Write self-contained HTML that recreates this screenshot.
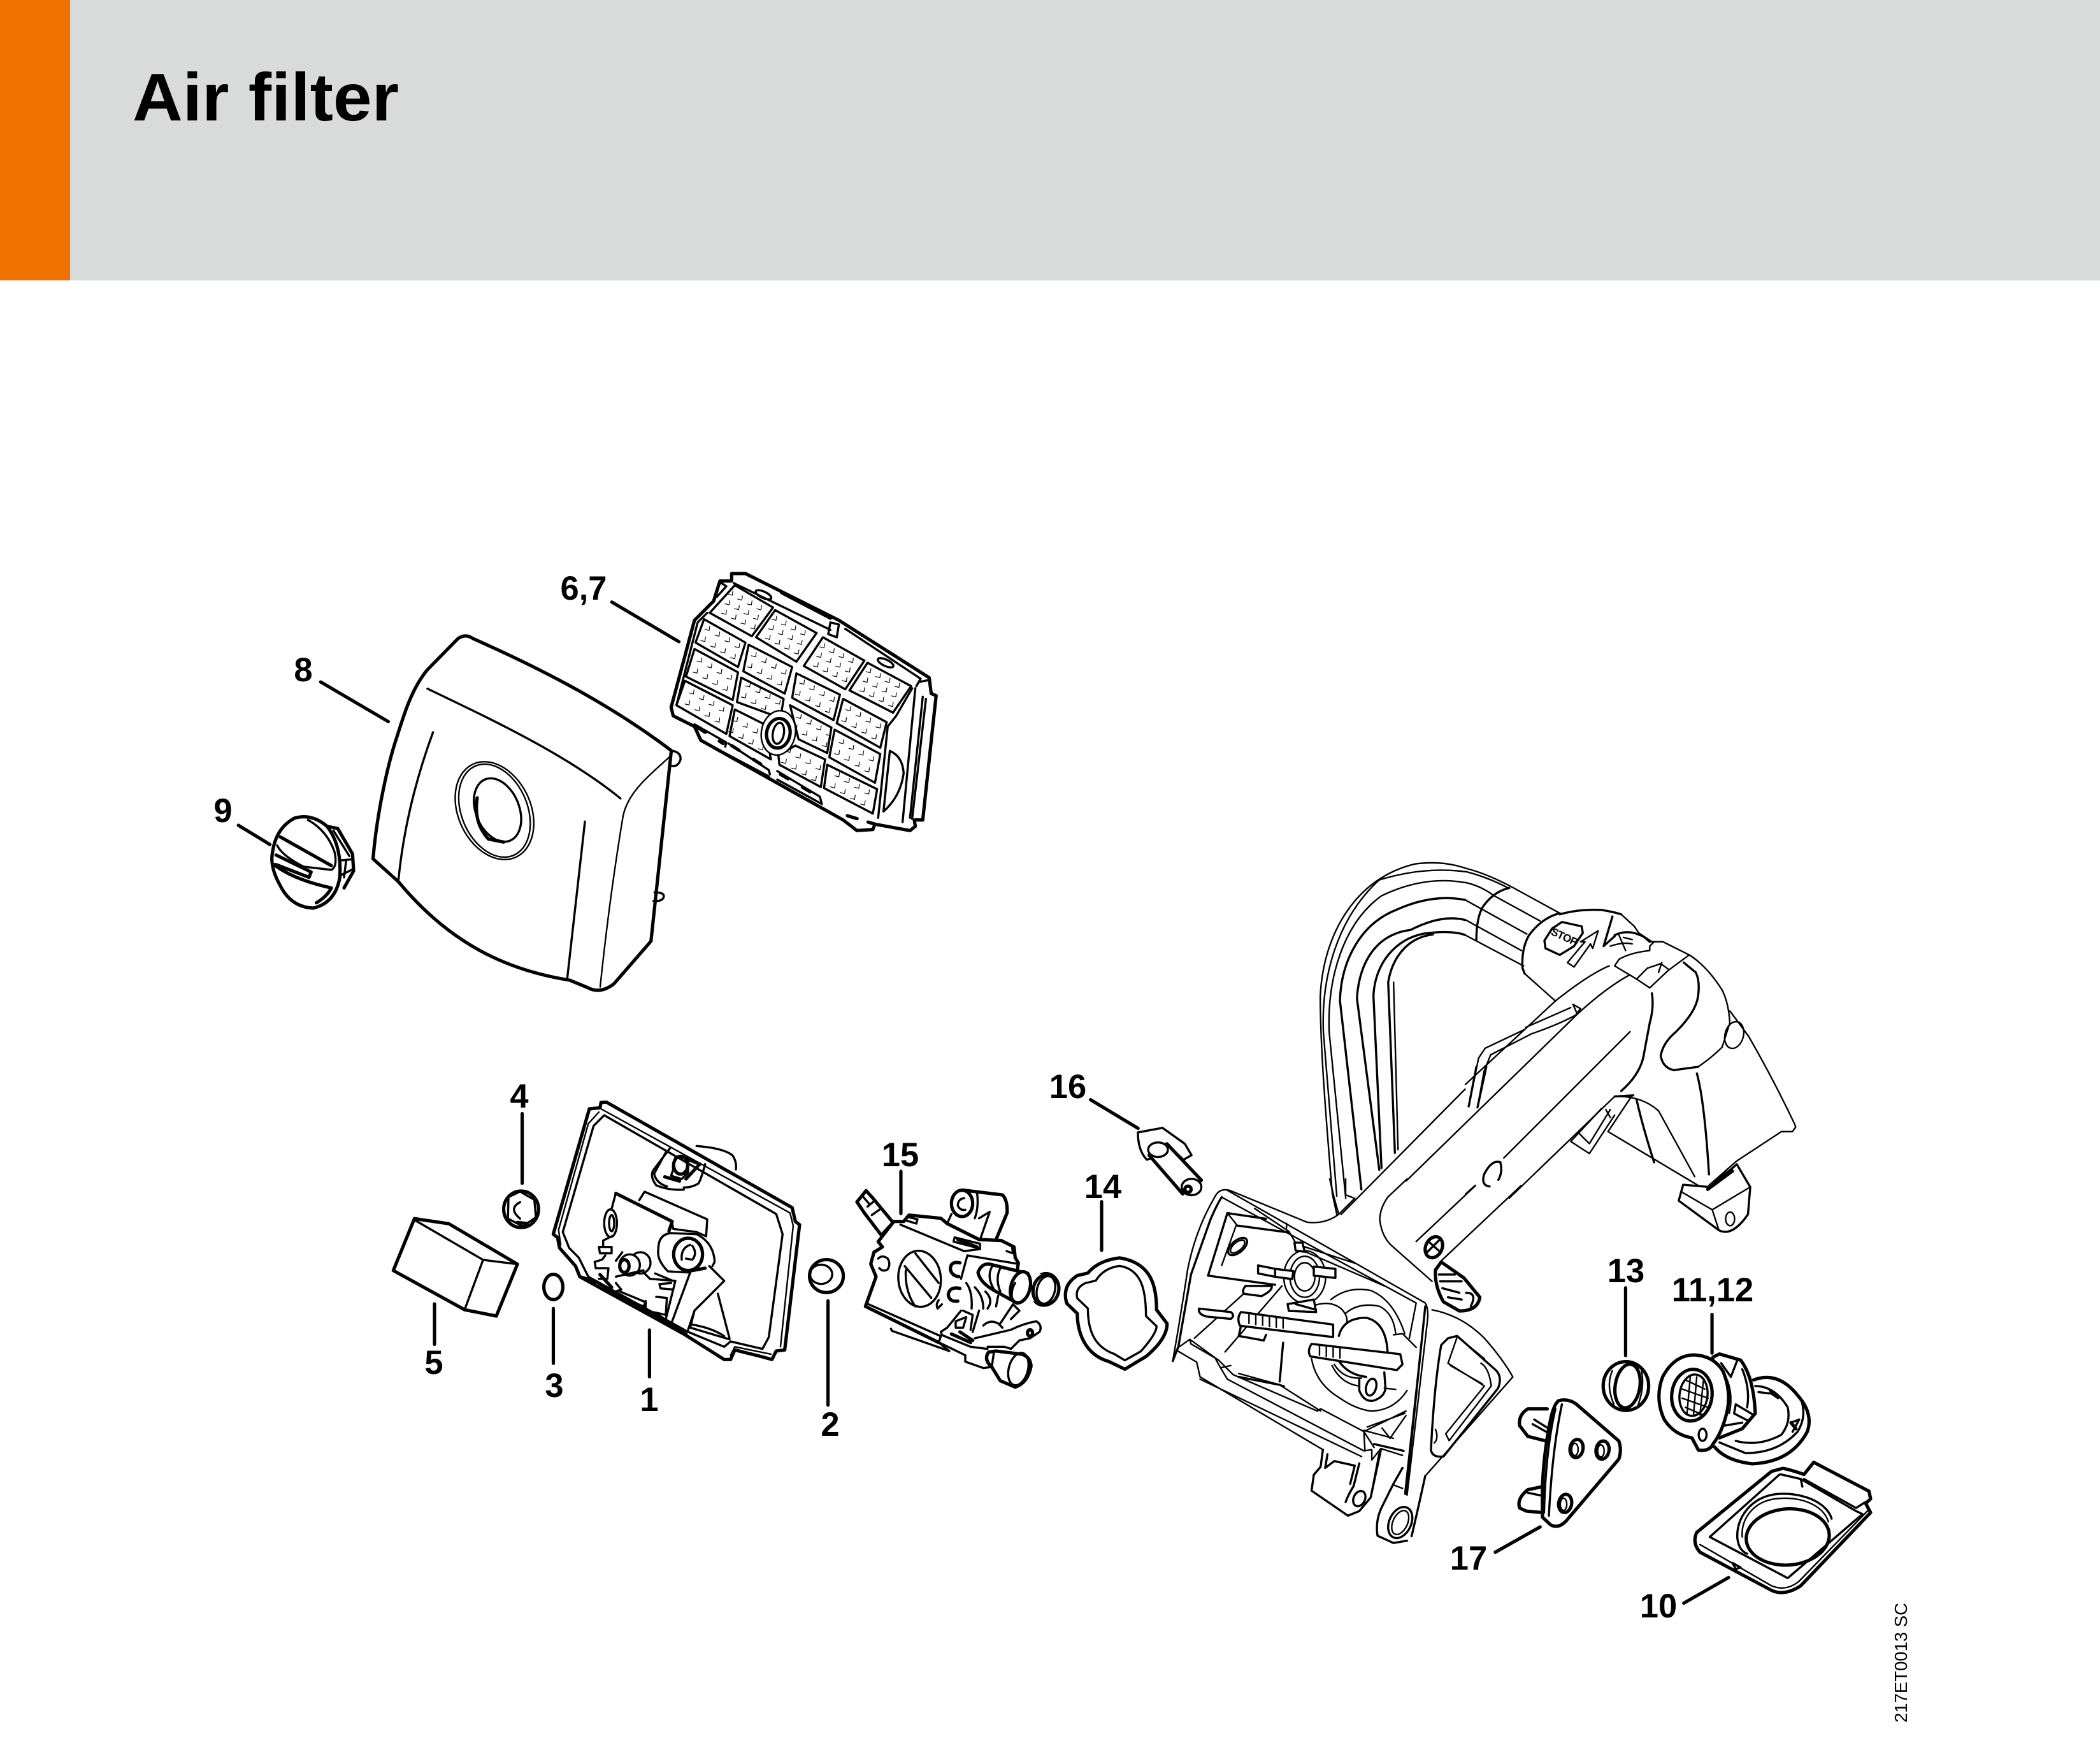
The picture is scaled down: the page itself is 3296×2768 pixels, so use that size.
<!DOCTYPE html>
<html><head><meta charset="utf-8"><title>Air filter</title>
<style>
html,body{margin:0;padding:0;background:#fff}
svg{display:block}
.p *{vector-effect:non-scaling-stroke}
.p{fill:none;stroke:#000;stroke-width:2.4;stroke-linejoin:round;stroke-linecap:round}
.k{stroke-width:5.2}
.m{stroke-width:3.4}
.w{fill:#fff}
.l{font:bold 52.5px "Liberation Sans",sans-serif;fill:#000;text-anchor:middle}
</style></head><body>
<svg width="3296" height="2768" viewBox="0 0 3296 2768" xmlns="http://www.w3.org/2000/svg">
<defs>
<path id="b" class="m" d="M-52,-78l-3,20l-20,-5M-5,-51l-3,20l-20,-5M42,-24l-3,20l-20,-5M89,3l-3,20l-20,-5M-72,-26l-3,20l-20,-5M-25,1l-3,20l-20,-5M22,28l-3,20l-20,-5M69,55l-3,20l-20,-5"/>
<path id="a" class="m" d="M-44,-92l-3,20l-20,-5M1,-69l-3,20l-20,-5M46,-46l-3,20l-20,-5M91,-23l-3,20l-20,-5M-59,-47l-3,20l-20,-5M-14,-24l-3,20l-20,-5M31,-1l-3,20l-20,-5M76,22l-3,20l-20,-5M-74,-2l-3,20l-20,-5M-29,21l-3,20l-20,-5M16,44l-3,20l-20,-5M61,67l-3,20l-20,-5"/>
</defs>
<rect width="3296" height="440" fill="#d9dbda"/>
<rect width="110" height="440" fill="#f07000"/>
<text x="208" y="189" textLength="418" lengthAdjust="spacingAndGlyphs" font-family="Liberation Sans,sans-serif" font-weight="bold" font-size="106" fill="#000">Air filter</text>

<!-- cover + leaders -->
<g class="p" transform="translate(300,850) scale(.7975,.4785)">
<path class="k" d="M828,198L960,328M255,460L388,590M93,930L155,993"/>
<path class="k w" d="M358,1040C365,900 385,740 405,640C420,560 435,480 465,420L525,318Q540,300 555,318C700,425 830,540 945,685L905,1310L832,1450Q805,1485 780,1462L745,1438C640,1410 520,1340 408,1115Z"/>
<path class="m" d="M465,482C600,590 740,700 845,842"/>
<path d="M945,700C900,770 860,820 850,900C830,1100 815,1300 805,1460"/>
<path class="m" d="M476,625C455,720 420,900 408,1110M775,918L740,1435"/>
<path class="m" d="M945,685Q965,690 963,715Q958,740 945,735M912,1150Q932,1150 930,1165Q928,1180 910,1178"/>
<ellipse cx="597" cy="882" rx="74" ry="162" transform="rotate(-9 597 882)"/>
<ellipse cx="597" cy="882" rx="67" ry="154" transform="rotate(-9 597 882)"/>
<ellipse class="m" cx="603" cy="880" rx="44" ry="105" transform="rotate(-9 603 880)"/>
<path class="k" d="M563,840Q555,920 585,975L615,985"/>
</g>

<!-- dial 9 -->
<g class="p" transform="translate(420,1250) scale(.3333)">
<path class="k" d="M280,140L330,150L400,270L405,350L360,430"/>
<path class="m" d="M310,160L385,280M350,300L400,295M345,370L395,345M370,300L360,380"/>
<path class="k w" d="M20,290Q30,150 130,100Q210,80 280,140Q350,230 340,380Q320,500 215,525Q110,520 60,420Q20,350 20,290Z"/>
<path class="m" d="M45,230Q70,280 170,330L300,345Q330,330 315,260Q280,160 190,110"/>
<path class="k" d="M60,190L300,325M40,275L205,355L195,380L40,320M30,320Q120,390 300,430Q280,470 230,500"/>
</g>

<!-- filter 6,7 -->
<g class="p" transform="translate(1040,880) scale(.3333)">
<path class="k w" d="M325,60L390,60L830,280L1255,550L1265,625L1288,635L1270,800L1225,1220L1185,1220L1190,1250L1165,1270L1000,1240L990,1265L915,1270L850,1220L180,845L150,780L50,730L40,690L150,280L240,190L270,95L325,95Z"/>
<path class="m" d="M335,105L790,325M860,320L1215,555L1195,590M1210,570L1260,560M1225,640L1165,1210M1240,650L1175,1215M1190,600L1130,1230M65,680L165,290L210,245M270,100L300,120L255,170M790,290L830,300L820,360L780,345Z"/>
<path class="k" d="M560,150L790,270"/>
<ellipse class="m" cx="475" cy="160" rx="40" ry="15" transform="rotate(25 475 160)"/>
<ellipse class="m" cx="1050" cy="480" rx="40" ry="15" transform="rotate(25 1050 480)"/>
<path class="m" d="M1175,600L1100,730L1060,780L1015,1210"/>
<path class="m" d="M340,115L520,220L420,355L222,245ZM530,232L725,340L630,475L440,360ZM755,360L950,470L860,605L665,495ZM965,480L1170,590L1085,715L880,610ZM195,275L390,385L355,500L155,385ZM405,395L610,500L575,625L380,520ZM630,530L835,630L805,750L610,645ZM850,650L1055,760L1025,880L820,765ZM150,415L355,525L330,655L110,545ZM370,550L570,650L555,740L350,665ZM600,680L795,785L775,905L640,840ZM810,795L1025,910L1000,1045L785,925ZM105,565L330,680L300,815L65,680ZM340,700L480,770L510,935L315,825ZM545,915L625,870L765,935L745,1065L550,960ZM775,960L1010,1075L990,1190L760,1070Z"/>
<use href="#a" x="375" y="234"/><use href="#a" x="581" y="352"/><use href="#a" x="807" y="482"/><use href="#a" x="1025" y="599"/>
<use href="#b" x="274" y="386"/><use href="#b" x="493" y="510"/><use href="#b" x="720" y="639"/><use href="#b" x="938" y="764"/>
<use href="#b" x="237" y="535"/><use href="#b" x="465" y="652"/><use href="#b" x="705" y="800"/><use href="#b" x="905" y="919"/>
<use href="#b" x="200" y="685"/><use href="#b" x="405" y="815"/><use href="#b" x="655" y="960"/><use href="#b" x="885" y="1075"/>
<ellipse class="w" cx="545" cy="810" rx="80" ry="105" transform="rotate(10 545 810)"/>
<ellipse class="k" cx="545" cy="812" rx="55" ry="70" transform="rotate(10 545 812)"/>
<ellipse class="m" cx="545" cy="812" rx="26" ry="50" transform="rotate(10 545 812)"/>
<path class="m" d="M1070,895Q1130,920 1135,1000Q1120,1110 1040,1180Z"/>
<path class="m" d="M150,770L300,855L295,875M310,860L500,985L505,1005M540,990L740,1110L750,1145M180,845L500,1015M540,1030L750,1145"/>
<path class="k" stroke-dasharray="14 26" d="M165,785L285,860M325,870L490,975M555,1005L725,1105"/>
<path class="k" stroke-dasharray="16 18" d="M870,1200L1000,1240"/>
</g>

<!-- housing 1 -->
<g class="p" transform="translate(860,1720) scale(.3333)">
<path class="k" d="M250,30L275,28L1150,525L1165,590L1185,605L1115,1195L1075,1200L1055,1240L1000,1225L880,1195L860,1240L830,1240L640,1120L150,850L130,800L55,715L45,665L25,650L195,60L245,55Z"/>
<path class="m" d="M265,90L1075,555L1105,650L1040,1135L1010,1190L860,1155L830,1180L660,1110L190,850L145,760L100,715L70,640L215,140Z"/>
<path d="M250,60L1140,550L1155,610L1095,1180M240,75L190,130L50,630L60,700M860,1220L880,1180L1050,1215"/>
<path class="m" d="M700,235Q830,245 870,280Q890,310 885,345"/>
<path class="m" d="M575,245L495,350Q480,380 510,420Q570,445 640,440M555,265L500,365Q510,410 560,425M740,320Q725,380 710,410Q680,430 640,430"/>
<path class="m" d="M600,290Q585,320 590,345L580,375L630,390L660,360L660,290Z"/>
<ellipse class="k" cx="625" cy="325" rx="33" ry="42"/>
<path class="k" d="M550,380L620,400M665,300L715,320L650,390"/>
<path class="m" d="M320,455L300,530M430,490L455,450L750,580L745,660M585,600L590,625L700,640L745,660M300,660L260,680"/>
<path class="k" d="M320,458L585,590L570,635"/>
<ellipse class="m" cx="295" cy="598" rx="30" ry="65"/><ellipse class="m" cx="300" cy="598" rx="12" ry="38"/>
<path class="m" d="M520,720Q520,650 580,645L700,650Q780,690 785,780L775,800M520,720Q510,770 565,825L660,830"/>
<ellipse class="k w" cx="660" cy="745" rx="68" ry="76"/>
<path class="m" d="M670,700Q625,715 630,770M680,705Q705,740 680,770L650,765"/>
<path class="k" d="M660,825L740,810"/>
<path class="m" d="M670,830L585,1060M760,800L830,870L690,1010L660,1100M800,930L855,1140M690,1010L670,1090L855,1145M675,1075Q770,1090 830,1130"/>
<path class="m" d="M240,710L300,710L300,740L245,740ZM260,685L260,710M220,780L255,770L270,750M220,780L225,810L285,810L280,860L240,860"/>
<ellipse class="m" cx="435" cy="785" rx="48" ry="50"/>
<ellipse class="m w" cx="385" cy="795" rx="48" ry="50"/>
<ellipse class="k" cx="360" cy="800" rx="22" ry="30"/>
<path class="m" d="M320,775L350,735M320,850L450,820M320,880L345,910L320,920M450,830L480,860L600,870L555,1050M505,835L590,870M580,880L525,885L530,905L585,910M510,945L560,950L555,1030L510,1020M340,920L460,970L450,990L350,950M460,965L460,1000L490,1020"/>
<path class="k" d="M150,850L230,875L650,1120"/>
<path class="k" d="M245,840L300,900M500,1020L560,1060"/>
</g>

<!-- crop 2 parts -->
<g class="p" transform="translate(580,1680) scale(.829,.397)">
<path class="k" d="M289,170V445M123,922V1082M348,940V1157M530,1025V1210M868,910V1322M1006,398V565M1386,518V710M1365,115L1455,228"/>
<path class="k" d="M85,585L150,605L280,765L240,970L180,945L45,790Z"/>
<path class="m" d="M85,590L215,748L280,765M215,748L180,945"/>
<ellipse class="k" cx="348" cy="855" rx="18" ry="50"/>
<ellipse class="k" cx="287" cy="548" rx="33" ry="72"/>
<path class="m" d="M263,500L285,478L312,510L315,580L290,615L262,585Z"/>
<path class="m" d="M285,520Q262,545 285,585"/>
<path class="k" d="M280,600L298,604"/>
<ellipse class="k" cx="865" cy="812" rx="32" ry="65"/>
<ellipse class="m" cx="855" cy="805" rx="21" ry="38"/>
<path class="k" d="M1420,740C1480,760 1490,850 1490,945L1510,1000Q1510,1060 1470,1130L1430,1180L1400,1150C1350,1120 1340,1020 1340,960L1320,920Q1310,850 1340,810L1360,800Q1380,750 1420,740Z"/>
<path class="m" d="M1420,772C1460,785 1470,860 1470,970L1490,1010Q1490,1040 1460,1110L1430,1145L1410,1120C1370,1090 1360,1020 1360,940L1340,900Q1335,860 1355,840L1375,830Q1390,780 1420,772Z"/>
</g>

<!-- carburetor 15 -->
<g class="p" transform="translate(1330,1850) scale(.3333)">
<path class="k" d="M45,108L88,55L120,90L215,205L160,265L80,160Z"/>
<path class="m" d="M75,85L105,120M95,130L125,105M115,170L150,145"/>
<path class="k" d="M215,205L145,295L165,320L125,345L110,400L135,460L85,600L430,770"/>
<path class="k" d="M215,200L265,200L290,170L440,185L470,210L620,285L725,290L785,320L790,370L805,395L800,430"/>
<path class="m" d="M250,215L550,340L625,330L625,305L505,275L500,295L615,325M290,180L330,190L325,210L275,195M565,360L535,470M565,360L805,400M750,340L780,350L775,320"/>
<path class="m" d="M100,590L440,740M85,600L555,830M205,705L210,715L480,810M555,830L555,860L640,890L680,885M440,740L430,770L480,810"/>
<path class="k" d="M520,285L610,320"/>
<path class="m" d="M190,375Q165,355 145,375M150,420Q170,440 190,425Q205,400 190,375"/>
<ellipse class="m" cx="340" cy="470" rx="100" ry="132" transform="rotate(-5 340 470)"/>
<path class="m" d="M320,350L430,490M270,410L395,560M275,430Q270,530 320,600"/>
<path class="k" d="M530,395Q485,385 485,425Q490,455 525,460M530,515Q480,505 475,545Q480,580 520,575"/>
<path class="m" d="M430,570Q415,590 425,610L445,590"/>
<ellipse class="k w" cx="540" cy="115" rx="50" ry="62"/>
<path class="m" d="M550,90Q520,95 520,125Q530,150 555,145"/>
<path class="k" d="M540,52L730,75Q755,100 752,160L700,285"/>
<path class="m" d="M610,60Q620,130 600,185M670,155L625,285M620,185L670,155M490,165L470,210"/>
<path class="m" d="M560,490Q590,530 585,610M600,510Q640,550 640,610M650,530Q690,570 660,610M710,550L700,600M535,620L470,700L440,720L445,735L580,790L660,800M590,640L545,620M590,640L580,710M620,620L590,720M640,690Q670,660 710,680L730,700M720,680L780,590Q800,610 810,620L770,660"/>
<path class="m" d="M510,670L560,650L545,700L510,700Z"/>
<ellipse class="k w" cx="930" cy="520" rx="62" ry="75" transform="rotate(15 930 520)"/>
<ellipse class="m" cx="935" cy="520" rx="44" ry="68" transform="rotate(15 935 520)"/>
<path class="m w" d="M850,430L985,470L935,595L860,570Z" stroke="none"/>
<ellipse class="k w" cx="935" cy="522" rx="60" ry="72" transform="rotate(15 935 522)"/>
<ellipse class="m" cx="935" cy="522" rx="42" ry="66" transform="rotate(15 935 522)"/>
<path class="k w" d="M615,440Q630,400 665,400L850,445L800,585L700,530Q625,490 615,440Z"/>
<path class="m" d="M680,415Q655,460 690,520M720,420Q695,470 720,530"/>
<ellipse class="k w" cx="815" cy="510" rx="45" ry="75" transform="rotate(15 815 510)"/>
<path class="m" d="M790,490Q770,520 775,560"/>
<path class="m" d="M600,750L770,710Q830,680 890,670Q920,690 905,720L860,750L810,760L770,800L740,790L660,790"/>
<ellipse class="k" cx="860" cy="725" rx="12" ry="15"/>
<path class="k" d="M490,730L580,770M530,720L590,760"/>
<path class="k w" d="M665,815Q640,850 680,885L720,950L790,980Q850,960 865,880Q860,835 820,825L700,810Z"/>
<ellipse class="m" cx="805" cy="895" rx="45" ry="78" transform="rotate(15 805 895)"/>
<path class="m" d="M690,815L680,885"/>
</g>

<!-- handle + foot + pin -->
<g class="p" transform="translate(1800,1320) scale(.7015,.714)">
<path d="M415,775C400,600 388,450 388,340C395,200 470,80 600,50Q660,42 712,59"/>
<path d="M425,780L395,420C390,300 425,170 520,85Q620,55 712,67"/>
<path d="M445,785L408,420C403,300 440,180 525,120Q620,75 712,91"/>
<path class="m" d="M480,765L432,350C435,260 480,180 560,150Q640,115 712,129"/>
<path class="m" d="M520,722L470,345C475,270 510,205 590,195Q660,160 712,173"/>
<path class="m" d="M525,718L507,340C510,270 555,215 620,203Q680,195 712,206"/>
<path class="m" d="M555,685L540,310C548,260 580,212 640,205"/>
<path d="M562,678L552,310"/>
<path d="M435,820L712,545"/>
<path d="M415,775L425,820"/>
<path class="m" d="M1200,755L1190,790L1280,855Q1310,870 1345,820L1350,760L1320,710L1260,760Z"/>
<path d="M1195,770L1265,810L1280,855M1265,810L1350,760M1260,760L1300,720"/>
<ellipse cx="1305" cy="830" rx="10" ry="15"/>
<path class="k" d="M1255,765L1310,725"/>
<path class="m w" d="M-20,640L35,630L85,665L100,690L82,700L60,680L30,690L0,700Q-20,680 -20,640Z"/>
<path class="k w" d="M5,690L80,775L122,745L45,665Z"/>
<ellipse class="m w" cx="25" cy="678" rx="22" ry="16"/>
<ellipse class="m w" cx="100" cy="760" rx="22" ry="18"/><ellipse class="k" cx="92" cy="765" rx="7" ry="7"/>
</g>

<!-- rear -->
<g class="p" transform="translate(2300,1340) scale(.3444)">
<path d="M0,65Q100,90 220,155L430,270M0,80Q100,105 195,155M0,130Q70,145 130,190L340,305M0,210L280,365M0,300L255,440M0,370L265,510"/>
<path class="m" d="M200,155Q130,170 80,240Q50,290 50,390"/>
<path class="m" d="M430,270Q350,290 290,370Q255,430 260,520L270,545"/>
<path d="M270,545L410,670"/>
<path class="m" d="M430,275Q520,250 620,255Q680,265 710,275"/>
<path d="M710,275L770,330L790,360L850,400L900,400L1020,460Q1100,510 1170,620Q1200,680 1205,770L1170,880Q1120,930 1060,970"/>
<path class="m" d="M1060,970L950,985Q900,975 890,920Q900,860 960,810Q1050,720 1060,650Q1070,580 1050,540L995,495"/>
<path d="M1205,715L1290,830Q1400,1020 1500,1230L1505,1245L1490,1265L1440,1265L1235,1400L1110,1510"/>
<path d="M1020,460L925,530L840,610L780,570L680,510L700,480Q750,450 840,440L840,420L860,400M780,570L830,520L890,500L925,525M895,495L880,540"/>
<ellipse cx="1225" cy="825" rx="42" ry="62" transform="rotate(15 1225 825)"/>
<path class="m" d="M850,635Q860,700 840,770L810,930Q790,1010 710,1080"/>
<path d="M655,510Q560,550 410,670L0,1050M750,550Q640,610 510,730L-270,1490"/>
<path d="M270,800L90,885L60,930L15,1150M480,700L275,790M510,730L490,685L525,705L505,730"/>
<path d="M510,730Q430,775 300,820L115,915L85,990L55,1155"/>
<path class="m" d="M50,970L15,1150M95,970L55,1155"/>
<path d="M750,810L175,1385"/>
<path class="m" d="M160,1405Q120,1390 85,1460Q70,1510 110,1515M160,1410Q170,1450 150,1485"/>
<path d="M45,1510L0,1550M680,1105L200,1568M680,1105Q800,1100 880,1170L1045,1470"/>
<path class="m" d="M680,1105L765,1100"/>
<path d="M760,1100L650,1265L1060,1510"/>
<path class="m" d="M780,1120Q810,1250 860,1405M1055,1000Q1090,1130 1110,1460"/>
<path d="M620,1160L480,1310L565,1365L680,1190M660,1165L565,1320L515,1270M640,1165L660,1200"/>
<path class="m" d="M440,310L530,330L535,360L495,420L430,460L365,430L360,395L395,340Z"/>
<path d="M605,350L525,400L545,400L465,495L495,515L570,410L580,430Z"/>
<path class="m" d="M670,285L630,420L680,375"/>
<path class="m" d="M680,370Q720,350 770,360L810,375L840,400"/>
<path d="M660,420Q720,400 760,410M700,370L730,440M720,380L760,390"/>
</g>
<text transform="translate(2433,1466) rotate(25)" font-family="Liberation Sans,sans-serif" font-weight="bold" font-size="17" textLength="44" fill="#000">STOP</text>

<!-- casing -->
<g class="p" transform="translate(1830,1850) scale(.357)">
<path class="m" d="M30,800L55,735L110,420L195,180Q225,110 245,80"/>
<path d="M30,800Q65,600 95,400Q130,220 220,70Q240,40 280,50L620,190Q700,200 760,155M720,0Q740,90 760,155M790,0L790,70L830,85M830,85L760,155"/>
<path d="M270,50L1140,545Q1155,570 1150,620L1060,1390M245,80L1100,545L1070,700M1140,560L1050,1385"/>
<path class="m" d="M1140,560L1055,1385"/>
<path class="m" d="M270,150L185,425L480,465M270,150L440,175M315,205L540,235"/>
<path d="M270,150L310,200L245,380"/>
<ellipse class="m" cx="315" cy="297" rx="50" ry="26" transform="rotate(-40 315 297)"/>
<ellipse cx="315" cy="297" rx="38" ry="18" transform="rotate(-40 315 297)"/>
<path d="M390,130L540,230L570,280M530,195L530,215M600,295L830,370M590,310L960,470"/>
<ellipse cx="610" cy="430" rx="92" ry="115"/><ellipse cx="610" cy="430" rx="65" ry="90"/><ellipse cx="610" cy="430" rx="45" ry="62"/>
<path class="m w" d="M565,280L600,280L610,320L570,315Z"/>
<path class="m w" d="M405,380L480,395L480,430L405,415ZM480,395L560,405L555,440L480,430ZM650,385L745,395L745,435L650,425Z"/>
<path d="M125,700L380,470M260,760L510,470"/>
<path class="m w" d="M350,470L465,470Q470,490 420,515L345,505Q330,495 350,470ZM145,570L285,585Q305,600 285,615L180,605Q140,595 145,570Z"/>
<path d="M725,530Q800,470 900,490Q1000,530 1050,680M640,790Q660,900 760,960Q830,1010 900,1020Q1000,1020 1060,930M790,590Q850,540 940,560Q1000,590 1010,680M730,820Q770,900 850,910M740,815Q780,880 860,875"/>
<path class="m" d="M760,690Q780,610 880,610Q970,630 975,770M760,800Q800,860 880,870"/>
<path d="M640,560Q720,530 770,570Q800,600 795,630M1000,685L1040,680L1100,740"/>
<path class="m w" d="M535,550L650,530L660,585L540,580Z"/>
<path class="m" d="M570,550L660,575"/>
<path class="m w" d="M330,585L735,640L735,695L325,645Q310,610 330,585Z"/>
<path class="m" d="M330,645L320,690L430,710L440,685"/>
<path d="M365,595v40M395,600v40M425,603v40M455,608v40M485,612v40M515,615v40"/>
<path class="m w" d="M640,725L1030,770L1040,815L1015,840L635,780Q620,755 640,725Z"/>
<path d="M675,730v45M705,735v45M735,738v45M765,742v45"/>
<path class="m" d="M850,880L850,930Q870,980 910,975Q960,960 965,920L960,850"/>
<ellipse class="m" cx="902" cy="915" rx="22" ry="38" transform="rotate(15 902 915)"/>
<path d="M960,920L1010,925"/>
<path class="m" d="M515,720L500,890"/>
<path class="m" d="M320,870L500,905"/>
<path d="M320,855L520,910M500,905L680,1020"/>
<path d="M105,705L55,740L30,800M105,705L215,785L240,830L285,820M50,755L135,805L150,870L690,1190M105,705L110,725L230,795L295,860L665,1020L680,1010L870,1110M150,880L860,1220M240,830L270,880L870,1195M870,1110L875,1195M870,1110L915,1180M870,1195L905,1190L905,1235L945,1185L1040,1215"/>
<path class="m" d="M915,1165L1045,1195"/>
<path d="M940,1190L905,1370M870,1110L1055,1020M950,1095L985,1140L1055,1040M885,1090L1050,1030M870,1105L1000,1140"/>
<path class="m" d="M690,1190L680,1265L650,1300L640,1370L800,1480L850,1460L900,1400L945,1190M710,1210L700,1270L740,1240L830,1260L810,1340M850,1250L825,1350Q800,1390 790,1420"/>
<ellipse class="m" cx="850" cy="1405" rx="25" ry="35" transform="rotate(25 850 1405)"/>
<path class="m" d="M1140,1305L1110,1440L1080,1570M1040,1270L1000,1340L950,1440Q920,1500 930,1568L1000,1600L1060,1590"/>
<path d="M1000,1345L1040,1360"/>
<ellipse class="m" cx="1030" cy="1510" rx="48" ry="72" transform="rotate(25 1030 1510)"/>
<ellipse cx="1030" cy="1510" rx="32" ry="56" transform="rotate(25 1030 1510)"/>
<path class="m" d="M1240,700L1210,730Q1180,900 1165,1190Q1170,1225 1220,1220L1460,920Q1480,870 1450,840L1280,690Z"/>
<path d="M1280,695L1240,810L1400,910L1230,1120L1245,1150L1430,910Q1420,830 1385,810M1250,820L1390,900M1290,700L1400,790M1185,1100Q1200,1140 1180,1160"/>
<path d="M1170,575Q1300,600 1400,700Q1480,790 1525,870L1145,1300"/>
<path d="M1060,0L975,80Q940,130 940,180Q950,260 1000,300L1170,450M1100,275L1360,30M1210,360L1560,30"/>
<ellipse class="k" cx="1178" cy="300" rx="36" ry="48" transform="rotate(25 1178 300)"/>
<path class="m" d="M1150,320L1200,270M1160,280L1205,320"/>
<path class="k w" d="M1185,400L1210,365L1310,435L1380,520Q1370,580 1290,580L1220,540Q1180,470 1185,400Z"/>
<path class="m" d="M1200,420L1270,420M1205,450L1300,450M1215,480L1290,500M1240,520L1300,530M1320,500Q1370,500 1340,560"/>
</g>

<!-- crop 4 parts -->
<g class="p" transform="translate(2250,1950) scale(.51,.4785)">
<path class="k" d="M591,148V370M857,235V362M190,1015L328,932M770,1182L908,1098"/>
<ellipse class="k" cx="592" cy="470" rx="70" ry="80"/>
<ellipse class="k" cx="597" cy="470" rx="38" ry="72" transform="rotate(8 597 470)"/>
<path d="M550,420Q530,470 555,530M640,420Q650,470 630,530"/>
<path class="k" d="M985,450Q1060,420 1120,500Q1170,560 1150,620Q1100,720 980,725Q900,715 865,670"/>
<path class="m" d="M1130,510Q1150,570 1120,620Q1060,690 960,690L880,655M990,470Q1050,470 1090,540Q1100,590 1070,630Q1000,670 930,650M1000,490L1040,495L1060,510L1035,485M1100,590L1125,580L1105,620"/>
<path class="k" d="M1100,590L1115,610"/>
<path class="k w" d="M860,375L880,365L945,385Q985,440 990,560L950,610L880,640L850,600Z"/>
<path class="m" d="M885,395L915,440L935,385M950,415Q975,480 965,540M930,530L985,565L970,585L925,560ZM895,600L950,590"/>
<path class="k w" d="M800,368Q860,370 890,420Q915,480 905,545Q890,620 860,660Q850,685 815,680L795,640Q740,630 710,580Q680,510 705,440Q740,370 800,368Z"/>
<ellipse class="k" cx="795" cy="500" rx="62" ry="85" transform="rotate(6 795 500)"/>
<ellipse class="m" cx="800" cy="500" rx="43" ry="68" transform="rotate(6 800 500)"/>
<path d="M775,450L835,480M765,480L845,510M765,510L845,540M775,540L830,565M790,440L780,560M810,440L800,565M830,455L820,565"/>
<ellipse class="m" cx="828" cy="630" rx="12" ry="20"/>
<path d="M895,430Q925,490 910,560"/>
<path class="k" d="M350,545L290,545Q260,565 265,600L290,635L345,650M335,800L290,810Q255,840 265,870L285,880L335,885"/>
<path class="m" d="M310,580L355,610M305,595L355,625M290,820L335,830"/>
<path class="k w" d="M385,518Q415,510 440,530L570,650Q580,680 570,710L410,910Q385,940 360,925L335,900L335,800Q340,680 360,580Q370,530 385,518Z"/>
<path class="m" d="M375,545Q345,680 340,885M395,530Q365,680 355,895"/>
<ellipse class="k" cx="440" cy="675" rx="20" ry="30" transform="rotate(8 440 675)"/><ellipse cx="435" cy="678" rx="10" ry="20"/>
<ellipse class="k" cx="520" cy="680" rx="20" ry="30" transform="rotate(8 520 680)"/><ellipse cx="515" cy="683" rx="10" ry="20"/>
<ellipse class="k" cx="405" cy="855" rx="20" ry="30" transform="rotate(8 405 855)"/><ellipse cx="400" cy="858" rx="10" ry="20"/>
<path class="k" d="M1075,740Q1100,745 1140,760L1170,720L1340,815L1345,840L1330,855L1345,885L1130,1125Q1080,1160 1040,1140L820,1015Q795,985 810,950L1040,750Z"/>
<path class="m" d="M1070,760L1130,775L1300,880L1320,890L1090,1100L850,965L1065,760ZM1140,775L1300,870L1330,850M1130,775L1135,800"/>
<path d="M820,990L1040,1125Q1085,1145 1125,1110L1335,880"/>
<path class="m" d="M1225,905C1210,850 1130,815 1050,825C980,835 930,900 935,970Q940,1010 965,1020"/>
<path d="M1215,915C1200,860 1130,830 1050,840C985,850 945,905 950,965"/>
<ellipse class="k" cx="1090" cy="965" rx="128" ry="92" transform="rotate(-5 1090 965)"/>
<path class="m" d="M920,1050L945,1065L930,1070Z"/>
</g>

<g>
<text class="l" x="916" y="941">6,7</text>
<text class="l" x="476" y="1069">8</text>
<text class="l" x="350" y="1290">9</text>
<text class="l" x="815" y="1738">4</text>
<text class="l" x="1413" y="1830">15</text>
<text class="l" x="1676" y="1723">16</text>
<text class="l" x="1731" y="1880">14</text>
<text class="l" x="681" y="2156">5</text>
<text class="l" x="870" y="2192">3</text>
<text class="l" x="1019" y="2214">1</text>
<text class="l" x="1303" y="2253">2</text>
<text class="l" x="2552" y="2012">13</text>
<text class="l" x="2688" y="2042">11,12</text>
<text class="l" x="2305" y="2463">17</text>
<text class="l" x="2603" y="2538">10</text>
<text transform="translate(2993,2703) rotate(-90)" font-family="Liberation Sans,sans-serif" font-size="27.5" textLength="188" lengthAdjust="spacingAndGlyphs" fill="#000">217ET0013 SC</text>
</g>
</svg>
</body></html>
